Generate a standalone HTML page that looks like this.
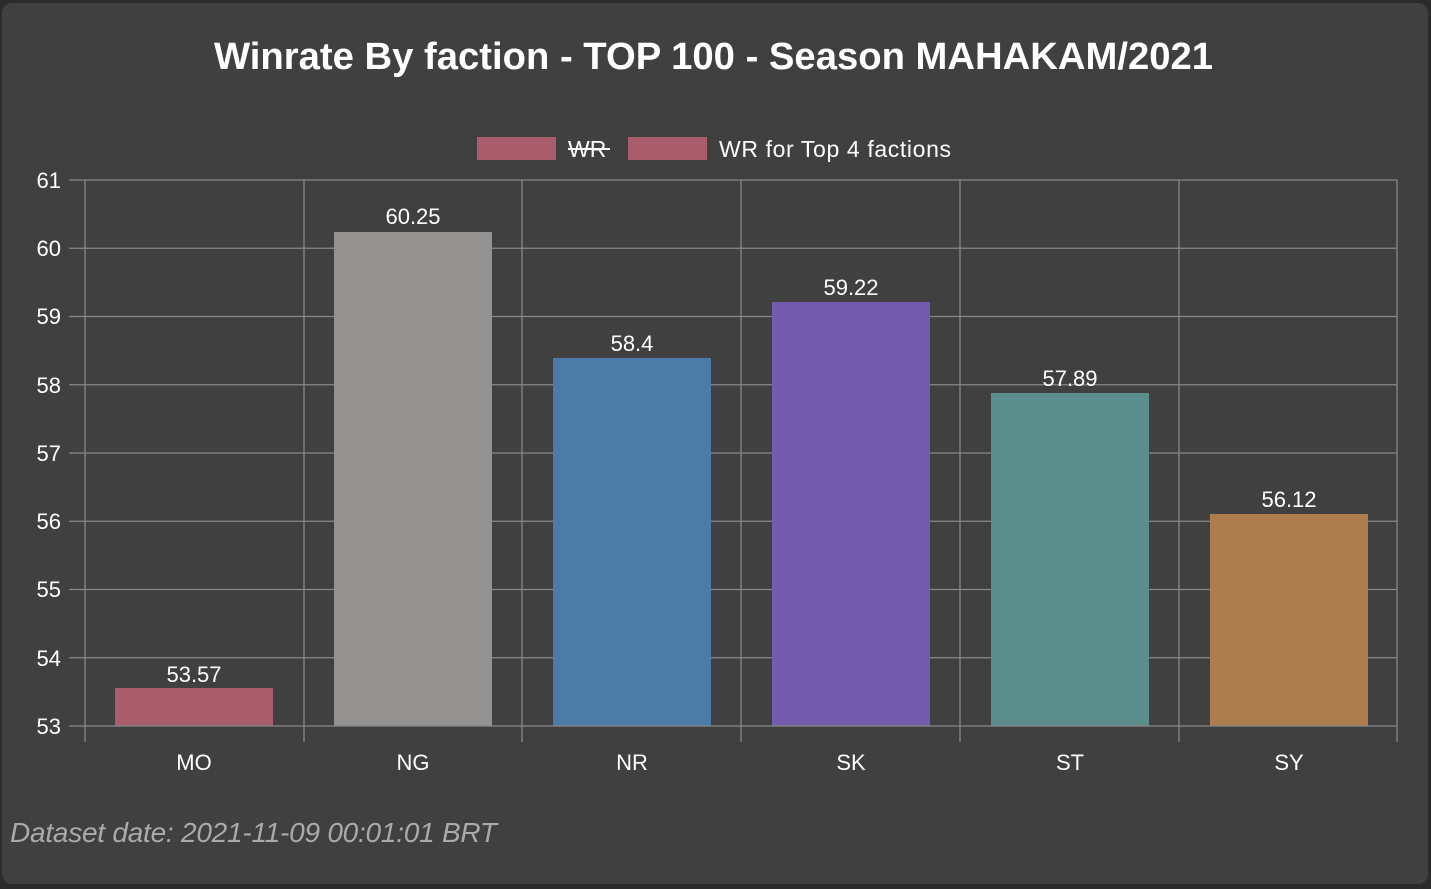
<!DOCTYPE html>
<html><head><style>
html,body{margin:0;padding:0;background:#2b2b2b;width:1431px;height:889px;overflow:hidden}
.card{position:absolute;left:2px;top:3px;width:1426px;height:881px;background:#404040;border-radius:10px}
svg{position:absolute;left:0;top:0}
text{font-family:"Liberation Sans",sans-serif;fill:#fff}
</style></head><body>
<div class="card"></div>
<svg width="1431" height="889">
<text x="214" y="69" font-size="38" font-weight="bold" textLength="999" lengthAdjust="spacingAndGlyphs" style="fill:#fff">Winrate By faction - TOP 100 - Season MAHAKAM/2021</text>
<rect x="477" y="137" width="79" height="23" fill="#a95c6b"/>
<text x="568" y="157" font-size="23">WR</text>
<line x1="568" y1="149" x2="610" y2="149" stroke="#fff" stroke-width="2"/>
<rect x="628" y="137" width="79" height="23" fill="#a95c6b"/>
<text x="719" y="157" font-size="23" textLength="232">WR for Top 4 factions</text>
<g stroke="#888" stroke-width="1.3">
<line x1="69" y1="180" x2="1397" y2="180"/>
<line x1="69" y1="248.25" x2="1397" y2="248.25"/>
<line x1="69" y1="316.5" x2="1397" y2="316.5"/>
<line x1="69" y1="384.75" x2="1397" y2="384.75"/>
<line x1="69" y1="453" x2="1397" y2="453"/>
<line x1="69" y1="521.25" x2="1397" y2="521.25"/>
<line x1="69" y1="589.5" x2="1397" y2="589.5"/>
<line x1="69" y1="657.75" x2="1397" y2="657.75"/>
<line x1="85" y1="180" x2="85" y2="742"/>
<line x1="304" y1="180" x2="304" y2="742"/>
<line x1="522" y1="180" x2="522" y2="742"/>
<line x1="741" y1="180" x2="741" y2="742"/>
<line x1="960" y1="180" x2="960" y2="742"/>
<line x1="1179" y1="180" x2="1179" y2="742"/>
<line x1="1397" y1="180" x2="1397" y2="742"/>
</g>
<rect x="115" y="688" width="158" height="38" fill="#a95c6b"/>
<rect x="334" y="232" width="158" height="494" fill="#939290"/>
<rect x="553" y="358" width="158" height="368" fill="#4b7ba6"/>
<rect x="772" y="302" width="158" height="424" fill="#735bad"/>
<rect x="991" y="393" width="158" height="333" fill="#5b8d8c"/>
<rect x="1210" y="514" width="158" height="212" fill="#ad7d4e"/>
<line x1="69" y1="726" x2="1397" y2="726" stroke="#888" stroke-width="1.3"/>
<g font-size="22" text-anchor="middle">
<text x="194" y="682">53.57</text>
<text x="413" y="224">60.25</text>
<text x="632" y="351">58.4</text>
<text x="851" y="295">59.22</text>
<text x="1070" y="386">57.89</text>
<text x="1289" y="507">56.12</text>
<text x="194" y="770">MO</text>
<text x="413" y="770">NG</text>
<text x="632" y="770">NR</text>
<text x="851" y="770">SK</text>
<text x="1070" y="770">ST</text>
<text x="1289" y="770">SY</text>
</g>
<g font-size="22" text-anchor="end">
<text x="61" y="188">61</text>
<text x="61" y="256">60</text>
<text x="61" y="324">59</text>
<text x="61" y="393">58</text>
<text x="61" y="461">57</text>
<text x="61" y="529">56</text>
<text x="61" y="597">55</text>
<text x="61" y="666">54</text>
<text x="61" y="734">53</text>
</g>
<text x="10" y="842" font-size="28" font-style="italic" textLength="487" style="fill:#aaa">Dataset date: 2021-11-09 00:01:01 BRT</text>
</svg>
</body></html>
